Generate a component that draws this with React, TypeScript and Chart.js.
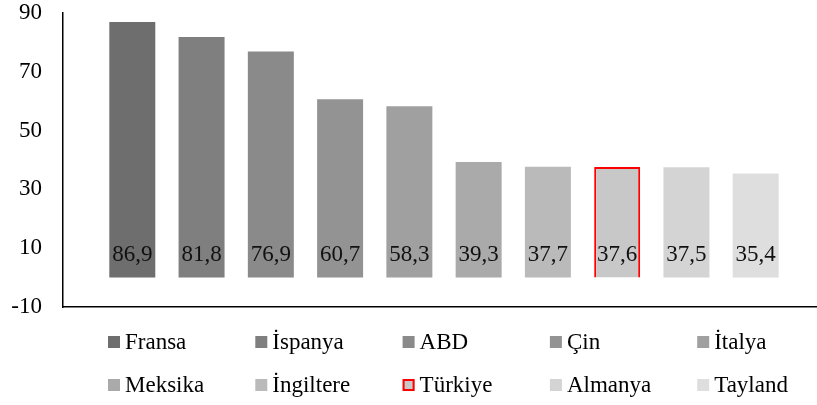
import React, { useEffect, useRef } from "react";
import { Chart, registerables } from "chart.js";

Chart.register(...registerables);

const countries = ["Fransa", "İspanya", "ABD", "Çin", "İtalya", "Meksika", "İngiltere", "Türkiye", "Almanya", "Tayland"];
const values = [86.9, 81.8, 76.9, 60.7, 58.3, 39.3, 37.7, 37.6, 37.5, 35.4];
const barColors = ["#6e6e6e", "#7f7f7f", "#8a8a8a", "#939393", "#a0a0a0", "#aaaaaa", "#bababa", "#c8c8c8", "#d4d4d4", "#dedede"];
const highlightIndex = 7;
const yMin = -10;
const yMax = 90;
const yStep = 20;

const FONT = "'Liberation Serif', 'Times New Roman', serif";

export default function App() {
  const ref = useRef<HTMLCanvasElement | null>(null);

  useEffect(() => {
    document.body.style.margin = "0";
    const canvas = ref.current;
    if (!canvas) return;

    const labelPlugin = {
      id: "valueLabels",
      afterDatasetsDraw(chart: any) {
        const ctx = chart.ctx;
        const y0 = chart.scales.y.getPixelForValue(0);
        ctx.save();
        ctx.font = `23px ${FONT}`;
        ctx.fillStyle = "#111";
        ctx.textAlign = "center";
        ctx.textBaseline = "middle";
        chart.data.datasets.forEach((ds: any, i: number) => {
          const el = chart.getDatasetMeta(i).data[0];
          if (!el) return;
          ctx.fillText(String(ds.data[0]).replace(".", ","), el.x, y0 - 23);
        });
        ctx.restore();
      },
    };

    const legendPlugin = {
      id: "gridLegend",
      afterDraw(chart: any) {
        const ctx = chart.ctx;
        const startX = 108;
        const colW = 147.3;
        const rowY = [342, 385];
        const box = 12;
        ctx.save();
        ctx.font = `23px ${FONT}`;
        ctx.textBaseline = "middle";
        ctx.textAlign = "left";
        chart.data.datasets.forEach((ds: any, i: number) => {
          const col = i % 5;
          const row = Math.floor(i / 5);
          const x = startX + col * colW;
          const y = rowY[row];
          ctx.fillStyle = ds.backgroundColor;
          ctx.fillRect(x, y - box / 2, box, box);
          if (ds.borderWidth > 0) {
            ctx.strokeStyle = ds.borderColor;
            ctx.lineWidth = 2;
            ctx.strokeRect(x + 1, y - box / 2 + 1, box - 2, box - 2);
          }
          ctx.fillStyle = "#000";
          ctx.fillText(ds.label, x + box + 5, y + 1);
        });
        ctx.restore();
      },
    };

    const chart = new Chart(canvas, {
      type: "bar",
      data: {
        labels: [""],
        datasets: countries.map((c, i) => ({
          label: c,
          data: [values[i]],
          backgroundColor: barColors[i],
          borderColor: i === highlightIndex ? "#ff0000" : barColors[i],
          borderWidth: i === highlightIndex ? 2 : 0,
          categoryPercentage: 0.909,
          barPercentage: 0.664,
        })),
      },
      options: {
        animation: false,
        responsive: true,
        maintainAspectRatio: false,
        layout: { padding: { top: 13, bottom: 98, right: 0, left: 0 } },
        plugins: {
          legend: { display: false },
          tooltip: { enabled: false },
        },
        scales: {
          x: {
            grid: { display: false, drawTicks: false },
            border: { display: true, color: "#000", width: 1.5 },
            ticks: { display: false },
          },
          y: {
            min: yMin,
            max: yMax,
            grid: { display: false, drawTicks: false },
            border: { display: true, color: "#000", width: 1.5 },
            ticks: {
              stepSize: yStep,
              padding: 21,
              color: "#000",
              font: { family: FONT, size: 23 },
            },
            afterFit(scale: any) {
              scale.width = 63;
              scale.paddingTop = 0;
              scale.paddingBottom = 0;
            },
          },
        },
      },
      plugins: [labelPlugin, legendPlugin],
    });

    return () => chart.destroy();
  }, []);

  return (
    <div style={{ width: 817, height: 405, overflow: "hidden", position: "relative" }}>
      <div style={{ width: 825, height: 405, position: "relative" }}>
        <canvas ref={ref} />
      </div>
    </div>
  );
}
